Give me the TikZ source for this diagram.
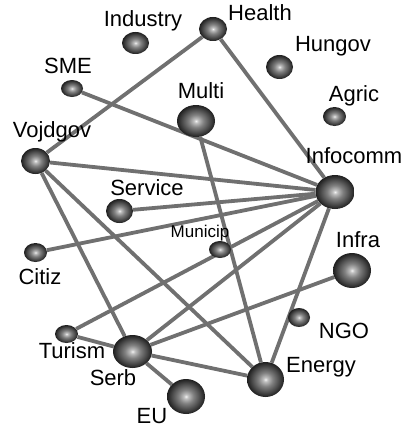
\documentclass[tikz,border=0pt]{standalone}
\usepackage{fontspec}
\setmainfont{Liberation Sans}
\usetikzlibrary{calc}
\usetikzlibrary{shapes.geometric}
\usetikzlibrary{backgrounds}
\definecolor{edgegray}{RGB}{112,112,112}
\pgfdeclareradialshading{orb}{\pgfpointorigin}{color(0bp)=(black!5); color(3bp)=(black!25); color(10bp)=(black!50); color(18bp)=(black!70); color(25bp)=(black!88); color(50bp)=(black!88)}

\begin{document}
\begin{tikzpicture}[x=1pt,y=-1pt,
    ball node/.style 2 args={ellipse,inner sep=0pt,shading=orb,minimum width=#1pt,minimum height=#2pt},
    label node/.style={anchor=base,inner sep=0pt,font=\fontsize{22}{24}\selectfont},
    link/.style={edgegray,line width=3.8pt}]
    \useasboundingbox (0,0) rectangle (407,428);

    \node[ball node={27}{22}](industry) at (135.5,43) {};
    \node[ball node={28}{24}](health) at (213,29) {};
    \node[ball node={22}{17}](sme) at (72,88.5) {};
    \node[ball node={27}{24}](hungov) at (279.5,67) {};
    \node[ball node={38}{32}](multi) at (196,121) {};
    \node[ball node={23}{19}](agric) at (334.5,116.5) {};
    \node[ball node={29}{26}](vojdgov) at (35.5,161) {};
    \node[ball node={39}{34}](infocomm) at (335,192) {};
    \node[ball node={27}{24}](service) at (119.5,211) {};
    \node[ball node={22}{17}](municip) at (220,249.5) {};
    \node[ball node={23}{19}](citiz) at (35.5,252.5) {};
    \node[ball node={38}{35}](infra) at (352,270.5) {};
    \node[ball node={22}{19}](ngo) at (299,317.5) {};
    \node[ball node={23}{18}](turism) at (66.5,334) {};
    \node[ball node={39}{33}](serb) at (132.5,351.5) {};
    \node[ball node={37}{35}](energy) at (265.5,379.5) {};
    \node[ball node={38}{35}](eu) at (186,396.5) {};

    \begin{pgfonlayer}{background}
    \draw[link] (health) -- (vojdgov);
    \draw[link] (health) -- (infocomm);
    \draw[link] (sme) -- (infocomm);
    \draw[link] (multi) -- (energy);
    \draw[link] (vojdgov) -- (infocomm);
    \draw[link] (vojdgov) -- (serb);
    \draw[link] (vojdgov) -- (energy);
    \draw[link] (service) -- (infocomm);
    \draw[link] (citiz) -- (infocomm);
    \draw[link] (turism) -- (infocomm);
    \draw[link] (turism) -- (serb);
    \draw[link] (serb) -- (infocomm);
    \draw[link] (serb) -- (infra);
    \draw[link] (serb) -- (energy);
    \draw[link] (serb) -- (eu);
    \draw[link] (infocomm) -- (energy);

    \node[label node] (industrylbl) at ($(industry)+(7.5,-16)$) {Industry};
    \node[label node] (healthlbl) at ($(health)+(47,-8)$) {Health};
    \node[label node] (smelbl) at ($(sme)+(-4,-14.5)$) {SME};
    \node[label node] (hungovlbl) at ($(hungov)+(53.5,-15)$) {Hungov};
    \node[label node] (multilbl) at ($(multi)+(5,-23)$) {Multi};
    \node[label node] (agriclbl) at ($(agric)+(19.5,-15.5)$) {Agric};
    \node[label node] (vojdgovlbl) at ($(vojdgov)+(16.5,-24)$) {Vojdgov};
    \node[label node] (infocommlbl) at ($(infocomm)+(19,-29)$) {Infocomm};
    \node[label node] (servicelbl) at ($(service)+(27.5,-16)$) {Service};
    \node[label node,font=\fontsize{17}{19}\selectfont] (municiplbl) at ($(municip)+(-20,-12.5)$) {Municip};
    \node[label node] (citizlbl) at ($(citiz)+(4.5,31.5)$) {Citiz};
    \node[label node] (infralbl) at ($(infra)+(6,-23.5)$) {Infra};
    \node[label node] (ngolbl) at ($(ngo)+(45,20.5)$) {NGO};
    \node[label node] (turismlbl) at ($(turism)+(5.5,24)$) {Turism};
    \node[label node] (serblbl) at ($(serb)+(-19.5,33.5)$) {Serb};
    \node[label node] (energylbl) at ($(energy)+(55.5,-7.5)$) {Energy};
    \node[label node] (eulbl) at ($(eu)+(-34,26.5)$) {EU};
    \end{pgfonlayer}
  \end{tikzpicture}
\end{document}
